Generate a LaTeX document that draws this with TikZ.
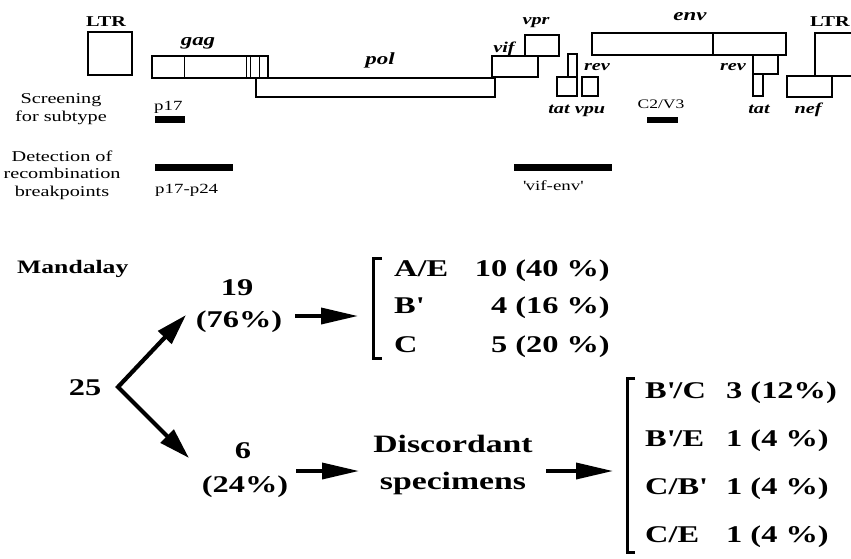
\documentclass[tikz,border=0pt]{standalone}
\usepackage{fontspec}
\setmainfont[FakeStretch=1.35]{Liberation Serif}
\usetikzlibrary{arrows.meta}
\newcommand\fsz[2]{\fontsize{#1}{#2}\selectfont}
\begin{document}
\begin{tikzpicture}[x=1pt,y=-1pt,
  gbox/.style={draw, line width=2.8pt, line join=miter},
  thin/.style={draw, line width=1pt},
  bar/.style={fill=black},
  gene/.style={font=\fsz{15}{18}\bfseries\itshape, anchor=base, inner sep=0},
  biggene/.style={font=\fsz{17}{20}\bfseries\itshape, anchor=base, inner sep=0},
  lab/.style={font=\fsz{15}{17.5}, inner sep=0, align=center},
  slab/.style={font=\fsz{14}{17}, inner sep=0},
  big/.style={font=\fsz{24}{28}\bfseries, inner sep=0},
  bigarrow/.style={line width=3.6pt, -{Triangle[length=37pt,width=16pt]}},
  chev/.style={line width=4.2pt, line join=miter, {Triangle[length=31pt,width=18pt]}-{Triangle[length=31pt,width=18pt]}},
  brk/.style={draw, line width=3pt, line join=miter}
]
\useasboundingbox (0,0) rectangle (851,558);
% ---------- genome map ----------
\draw[gbox] (88,32) rectangle (132,75);
\node[font=\fsz{15}{18}\bfseries, inner sep=0, anchor=base] (ltrL) at (106,26) {LTR};
% gag
\draw[gbox] (152,56) rectangle (268,78);
\draw[thin] (184,57) -- (184,77);
\draw[thin] (246,57) -- (246,77) (250,57) -- (250,77) (259,57) -- (259,77);
\node[biggene] (gag) at (198,45) {gag};
% pol
\draw[gbox] (256,78) rectangle (495,97);
\node[biggene] (pol) at (380,64) {pol};
% vif, vpr
\draw[gbox] (492,56) rectangle (538,77);
\node[gene] (vif) at (504,52) {vif};
\draw[gbox] (525,35) rectangle (559,56);
\node[gene] (vpr) at (536,24) {vpr};
% tat / rev first exons, vpu
\draw[gbox] (568,54) rectangle (577,77);
\draw[gbox] (557,77) rectangle (577,96);
\draw[gbox] (582,77) rectangle (598,96);
\node[gene] (tat1) at (559,113) {tat};
\node[gene] (vpu) at (590,113) {vpu};
\node[gene] (rev1) at (597,70) {rev};
% env
\draw[gbox] (592,33) rectangle (786,55);
\draw[line width=1.4pt] (713,34) -- (713,54);
\node[biggene] (env) at (690,20) {env};
% rev / tat second exons
\draw[gbox] (753,55) rectangle (778,74);
\draw[gbox] (753,74) rectangle (763,96);
\node[gene] (rev2) at (733,70) {rev};
\node[gene] (tat2) at (759,113) {tat};
% nef, right LTR
\draw[gbox] (815,76) -- (815,33) -- (870,33);
\draw[gbox] (815,76) -- (870,76);
\draw[gbox] (787,76) rectangle (832,97);
\node[gene] (nef) at (808,113) {nef};
\node[font=\fsz{15}{18}\bfseries, inner sep=0, anchor=base east] (ltrR) at (850,26) {LTR};
% left labels
\node[lab] (screen) at (61,109) {Screening\\for subtype};
\node[lab] (detect) at (62,175) {Detection of\\recombination\\breakpoints};
% bars
\fill[bar] (155,116) rectangle (185,123);
\node[slab, anchor=base west] (p17) at (154,110) {p17};
\fill[bar] (155,164) rectangle (233,171);
\node[slab, anchor=base west] (p1724) at (155,193) {p17-p24};
\fill[bar] (647,117) rectangle (678,123);
\node[font=\fsz{13}{15}, inner sep=0, anchor=base] (c2v3) at (661,108) {C2/V3};
\fill[bar] (514,164) rectangle (612,171);
\node[slab, anchor=base] (vifenv) at (553,190) {\textquotesingle vif-env\textquotesingle};
% ---------- lower flow ----------
\node[font=\fsz{19}{22}\bfseries, inner sep=0, anchor=base west] (mand) at (17,273) {Mandalay};
\node[big, anchor=base] (n25) at (85,395) {25};
\node[big, anchor=base] (n19) at (237,295) {19};
\node[big, anchor=base] (n76) at (239,327) {(76\%)};
\node[big, anchor=base] (n6) at (243,458) {6};
\node[big, anchor=base] (n24) at (245,492) {(24\%)};
\coordinate (vtx) at (118,387);
\coordinate (upTip) at (186,315);
\coordinate (dnTip) at (189,458);
\draw[chev] (upTip) -- (vtx) -- (dnTip);
\coordinate (a1s) at (295,316);
\coordinate (a1e) at (358,316);
\draw[bigarrow] (a1s) -- (a1e);
\coordinate (a2s) at (296,471);
\coordinate (a2e) at (359,471);
\draw[bigarrow] (a2s) -- (a2e);
% upper bracket
\draw[brk] (382,258) -- (373,258) -- (373,358) -- (382,358);
\node[big, anchor=base west] (rAE) at (394,276) {A/E};
\node[big, anchor=base west] (rB) at (394,313) {B\textquotesingle};
\node[big, anchor=base west] (rC) at (394,352) {C};
\node[big, anchor=base east] (vAE) at (610,276) {10 (40 \%)};
\node[big, anchor=base east] (vB) at (610,313) {4 (16 \%)};
\node[big, anchor=base east] (vC) at (610,352) {5 (20 \%)};
% discordant
\node[font=\fsz{25}{37}\bfseries, inner sep=0, align=center] (disc) at (453,465) {Discordant\\specimens};
\coordinate (a3s) at (546,471);
\coordinate (a3e) at (613,471);
\draw[bigarrow] (a3s) -- (a3e);
% lower bracket
\draw[brk] (635,378) -- (627,378) -- (627,552) -- (635,552);
\node[big, anchor=base west] (rBC) at (645,398) {B\textquotesingle/C};
\node[big, anchor=base west] (rBE) at (645,446) {B\textquotesingle/E};
\node[big, anchor=base west] (rCB) at (645,494) {C/B\textquotesingle};
\node[big, anchor=base west] (rCE) at (645,542) {C/E};
\node[big, anchor=base west] (vBC) at (726,398) {3 (12\%)};
\node[big, anchor=base west] (vBE) at (726,446) {1 (4 \%)};
\node[big, anchor=base west] (vCB) at (726,494) {1 (4 \%)};
\node[big, anchor=base west] (vCE) at (726,542) {1 (4 \%)};
\end{tikzpicture}
\end{document}
